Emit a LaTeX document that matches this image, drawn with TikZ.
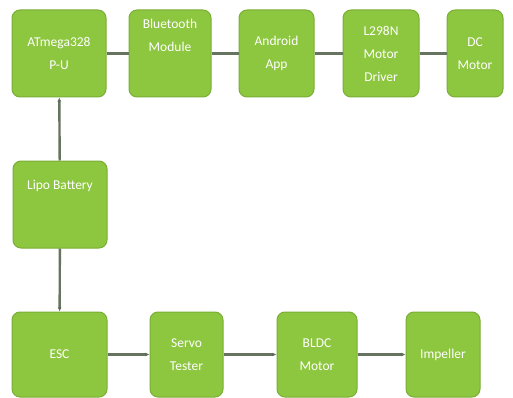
\documentclass[tikz,border=0pt]{standalone}
\usepackage{fontspec}
\setmainfont{Carlito}
\usepackage{xcolor}
\usetikzlibrary{arrows.meta}
\definecolor{blockgreen}{HTML}{8DC63F}
\definecolor{blockedge}{HTML}{7AAE35}
\definecolor{linkgray}{HTML}{65735F}
\tikzset{
	block/.style={draw=blockedge,line width=1pt,fill=blockgreen,rounded corners=8pt,
		text=white,align=center,font=\fontsize{13.5}{23}\selectfont,inner sep=2pt},
	link/.style={draw=linkgray,line width=2.4pt},
	tip/.style={-{Latex[length=4pt,width=4pt]}}
}
\begin{document}
\begin{tikzpicture}[x=1pt,y=-1pt]
			\useasboundingbox (0,0) rectangle (513,398);
			\node[block,minimum width=94pt,minimum height=87pt] (mcu) at (59,53.5) {ATmega328\\P-U};
			\node[block,minimum width=82pt,minimum height=87pt] (bt) at (170,53.5) {Bluetooth\\Module\\[14pt]};
			\node[block,minimum width=75pt,minimum height=87pt] (app) at (276.5,53.5) {Android\\App};
			\node[block,minimum width=76pt,minimum height=87pt] (drv) at (381,53.5) {L298N\\Motor\\Driver};
			\node[block,minimum width=56pt,minimum height=87pt] (dc) at (475,53.5) {DC\\Motor};
			\node[block,minimum width=94pt,minimum height=87pt] (lipo) at (60,204.5) {Lipo Battery\\[16pt]};
			\node[block,minimum width=95pt,minimum height=85pt] (esc) at (59.5,354.5) {ESC};
			\node[block,minimum width=73pt,minimum height=85pt] (servo) at (186.5,354.5) {Servo\\Tester};
			\node[block,minimum width=80pt,minimum height=85pt] (bldc) at (317,354.5) {BLDC\\Motor};
			\node[block,minimum width=74pt,minimum height=85pt] (imp) at (443,354.5) {Impeller};
			%
			\path[link]
				(mcu) edge (bt)
				(bt) edge (app)
				(app) edge (drv)
				(drv) edge (dc);
			\path[link,tip]
				(lipo) edge (mcu)
				(lipo) edge (esc)
				(esc) edge (servo)
				(servo) edge (bldc)
				(bldc) edge (imp);
		\end{tikzpicture}
\end{document}
